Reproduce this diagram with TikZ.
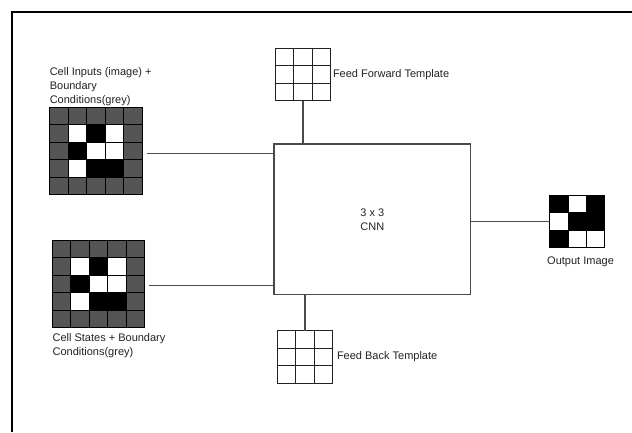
\documentclass[tikz,border=0pt]{standalone}
\usepackage{fontspec}
\setmainfont{Liberation Sans}
\usetikzlibrary{positioning}
\definecolor{ink}{HTML}{222222}
\definecolor{bound}{HTML}{555555}
\definecolor{wirec}{HTML}{4A4A4A}

\begin{document}
\begin{tikzpicture}[x=1pt,y=-1pt,font=\fontsize{11}{14}\selectfont,
  grid5/.style={minimum width=92.5pt,minimum height=87.5pt,inner sep=0pt,outer sep=0pt,anchor=north west},
  grid3/.style={minimum width=55.5pt,minimum height=52.5pt,inner sep=0pt,outer sep=0pt,anchor=north west},
  cellline/.style={line width=1pt,black},
  wire/.style={line width=1.3pt,wirec},
  lab/.style={text=ink,inner sep=0pt,align=left}]
\useasboundingbox (0,0) rectangle (632,432);
\draw[line width=2pt] (632,12) -- (11.5,12) -- (11.5,432);
% cell inputs with boundary
\node[grid5] (inp) at (49.6,107.3) {};
\begin{scope}[shift={(49.6,107.3)}]
\fill[bound] (0,0) rectangle (92.5,87.5);
\foreach \c/\r/\col in {1/1/white,2/1/black,3/1/white,1/2/black,2/2/white,3/2/white,1/3/white,2/3/black,3/3/black}
  \fill[\col] (\c*18.5,\r*17.5) rectangle +(18.5,17.5);
\foreach \i in {0,...,5} {
  \draw[cellline] (\i*18.5,0) -- (\i*18.5,87.5);
  \draw[cellline] (0,\i*17.5) -- (92.5,\i*17.5);
}
\end{scope}
\node[lab,anchor=south west] (inplab) at ([yshift=1pt]inp.north west) {Cell Inputs (image) +\\Boundary\\Conditions(grey)};
% cell states with boundary
\node[grid5] (st) at (52.4,240) {};
\begin{scope}[shift={(52.4,240)}]
\fill[bound] (0,0) rectangle (92.5,87.5);
\foreach \c/\r/\col in {1/1/white,2/1/black,3/1/white,1/2/black,2/2/white,3/2/white,1/3/white,2/3/black,3/3/black}
  \fill[\col] (\c*18.5,\r*17.5) rectangle +(18.5,17.5);
\foreach \i in {0,...,5} {
  \draw[cellline] (\i*18.5,0) -- (\i*18.5,87.5);
  \draw[cellline] (0,\i*17.5) -- (92.5,\i*17.5);
}
\end{scope}
\node[lab,anchor=north west] (stlab) at ([yshift=-6pt]st.south west) {Cell States + Boundary\\Conditions(grey)};
% templates
\node[grid3] (ff) at (275.3,48.3) {};
\node[grid3] (fb) at (277.3,330.7) {};
\foreach \t in {ff,fb} {
  \begin{scope}[shift={(\t.north west)}]
  \foreach \i in {0,...,3} {
    \draw[cellline,ink,line width=1.2pt] (\i*18.5,0) -- (\i*18.5,52.5);
    \draw[cellline,ink,line width=1.2pt] (0,\i*17.5) -- (55.5,\i*17.5);
  }
  \end{scope}
}
\node[lab,right=2pt of ff] (fflab) {Feed Forward Template};
\node[lab,right=4pt of fb] (fblab) {Feed Back Template};
% the network
\node[draw=wirec,line width=1.3pt,minimum width=196.7pt,minimum height=150.7pt,anchor=north west,text=ink,align=center] (cnn) at (273.3,143.3) {3 x 3\\CNN};
% output
\node[grid3] (out) at (549.8,195) {};
\begin{scope}[shift={(549.8,195)}]
\foreach \c/\r/\col in {0/0/black,1/0/white,2/0/black,0/1/white,1/1/black,2/1/black,0/2/black,1/2/white,2/2/white}
  \fill[\col] (\c*18.3,\r*17.5) rectangle +(18.3,17.5);
\foreach \i in {0,...,3} {
  \draw[cellline] (\i*18.3,0) -- (\i*18.3,52.5);
  \draw[cellline] (0,\i*17.5) -- (54.9,\i*17.5);
}
\end{scope}
\node[lab,below=9pt of out,xshift=3pt] (outlab) {Output Image};
% wires
\coordinate (inpend) at ([xshift=5pt,yshift=-2.5pt]inp.east);
\coordinate (stend) at ([xshift=4pt,yshift=-2pt]st.east);
\draw[wire] (inpend) -- (inpend -| cnn.west);
\draw[wire] (stend) -- (stend -| cnn.west);
\draw[wire] (ff.south) -- (ff.south |- cnn.north);
\draw[wire] (fb.north) -- (fb.north |- cnn.south);
\draw[wire] (out.west -| cnn.east) -- (out.west);
\end{tikzpicture}
\end{document}
